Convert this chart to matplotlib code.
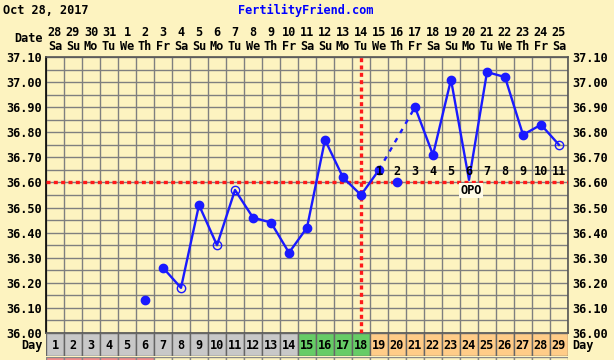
import numpy as np
import matplotlib
matplotlib.use('Agg')
import matplotlib.pyplot as plt
import matplotlib.transforms as mtransforms

# Chart data
cycle_days = list(range(1, 30))
date_nums = ['28', '29', '30', '31'] + [str(d) for d in range(1, 26)]
weekdays = (['Sa', 'Su', 'Mo', 'Tu', 'We', 'Th', 'Fr'] * 5)[:29]
temps = [None, None, None, None, None, 36.13, 36.26, 36.18, 36.51, 36.35,
         36.57, 36.46, 36.44, 36.32, 36.42, 36.77, 36.62, 36.55, 36.65, 36.60,
         36.90, 36.71, 37.01, 36.61, 37.04, 37.02, 36.79, 36.83, 36.75]
open_days = [8, 10, 11, 29]      # hollow markers
no_marker_days = [24]
isolated_days = [6, 20]           # not joined by solid line
dashed_pair = [19, 21]
coverline = 36.60
ovulation_day = 18
dpo_days = list(range(19, 30))
dpo_labels = [str(i) for i in range(1, 12)]
opo_day = 24
phase_colors = ['#c8c8c8'] * 14 + ['#66cc66'] * 4 + ['#ffcc88'] * 11
period_days = [1, 2, 3, 4, 5, 6]

BG = '#fdf3c0'
BLUE = '#1a1aff'
FONT = 'DejaVu Sans Mono'
fs = 8.6

fig = plt.figure(figsize=(6.14, 3.60), dpi=100, facecolor=BG)

W, H = 614, 360
def fx(px):
    return px / W
def fy(py):
    return 1 - py / H

ax = fig.add_axes([fx(46), fy(333), fx(522), 276 / H])
ax.set_facecolor(BG)
ax.set_xlim(0.5, 29.5)
ax.set_ylim(36.0, 37.1)

# grid
ax.set_xticks(np.arange(0.5, 30, 1))
ax.set_xticklabels([])
yt = np.round(np.arange(36.0, 37.11, 0.1), 2)
ax.set_yticks(yt)
ax.set_yticklabels(['%.2f' % v for v in yt], fontfamily=FONT, fontweight='bold', fontsize=fs)
ax.set_yticks(np.arange(36.05, 37.1, 0.1), minor=True)
ax.tick_params(axis='both', which='both', length=0)
ax.tick_params(axis='y', labelright=True, pad=3)
ax.grid(True, which='both', color='#7f7f7f', linewidth=1.0)
ax.set_axisbelow(True)
for s in ax.spines.values():
    s.set_color('#555555')
    s.set_linewidth(1.2)
ax.spines['left'].set_color('#000000')

# coverline and ovulation line
ax.axhline(coverline, color='#ff1a1a', linewidth=2.4, linestyle=(0, (1.2, 1.0)), zorder=3)
ax.axvline(ovulation_day, color='#ff1a1a', linewidth=2.4, linestyle=(0, (1.2, 1.0)), zorder=3, clip_on=False)

# temperature line
t = np.array([np.nan if v is None else v for v in temps])
d = np.array(cycle_days)
solid = t.copy()
for iso in isolated_days:
    solid[iso - 1] = np.nan
ax.plot(d, solid, color=BLUE, linewidth=1.7, zorder=4)
ax.plot(dashed_pair, [t[dashed_pair[0] - 1], t[dashed_pair[1] - 1]], color=BLUE,
        linewidth=1.7, linestyle=(0, (2, 2.5)), zorder=4)

filled = [day for day in cycle_days
          if temps[day - 1] is not None and day not in open_days and day not in no_marker_days]
ax.plot(filled, [temps[day - 1] for day in filled], 'o', color=BLUE, markersize=6.0, zorder=5)
ax.plot(open_days, [temps[day - 1] for day in open_days], 'o', markerfacecolor='none',
        markeredgecolor=BLUE, markeredgewidth=1.0, markersize=6.0, zorder=5)

# DPO labels
for day, lab in zip(dpo_days, dpo_labels):
    ax.text(day, 36.642, lab, ha='center', va='center', fontfamily=FONT,
            fontweight='bold', fontsize=fs, zorder=6)
ax.text(opo_day + 0.1, 36.568, 'OPO', ha='center', va='center', fontfamily=FONT,
        fontweight='bold', fontsize=fs, zorder=6,
        bbox=dict(boxstyle='square,pad=0.1', facecolor='#fffbe8', edgecolor='none'))

# header
fig.text(fx(3), fy(10), 'Oct 28, 2017', ha='left', va='center', fontfamily=FONT,
         fontweight='bold', fontsize=fs)
fig.text(fx(306), fy(10), 'FertilityFriend.com', ha='center', va='center', fontfamily=FONT,
         fontweight='bold', fontsize=fs, color='#0000ff')
tr = mtransforms.blended_transform_factory(ax.transData, fig.transFigure)
for day, num, wd in zip(cycle_days, date_nums, weekdays):
    ax.text(day, fy(33), num, transform=tr, ha='center', va='center', fontfamily=FONT,
            fontweight='bold', fontsize=fs)
    ax.text(day, fy(46.5), wd, transform=tr, ha='center', va='center', fontfamily=FONT,
            fontweight='bold', fontsize=fs)
fig.text(fx(43), fy(39), 'Date', ha='right', va='center', fontfamily=FONT,
         fontweight='bold', fontsize=fs)

# day row
axd = fig.add_axes([fx(46), fy(356), fx(522), 23 / H])
axd.set_xlim(0.5, 29.5)
axd.set_ylim(0, 1)
axd.bar(cycle_days, 1, width=1, bottom=0, color=phase_colors, edgecolor='#666666', linewidth=1.0)
for day in cycle_days:
    axd.text(day, 0.45, str(day), ha='center', va='center', fontfamily=FONT,
             fontweight='bold', fontsize=fs)
axd.axis('off')
fig.text(fx(43), fy(346), 'Day', ha='right', va='center', fontfamily=FONT,
         fontweight='bold', fontsize=fs)
fig.text(fx(572), fy(346), 'Day', ha='left', va='center', fontfamily=FONT,
         fontweight='bold', fontsize=fs)

# partial row below (cut off by image edge)
axp = fig.add_axes([fx(46), fy(380), fx(522), 23 / H])
axp.set_xlim(0.5, 29.5)
axp.set_ylim(0, 1)
row_colors = ['#f28a8a' if day in period_days else BG for day in cycle_days]
axp.bar(cycle_days, 1, width=1, bottom=0, color=row_colors, edgecolor='#888888', linewidth=1.0)
axp.axis('off')

fig.savefig('out.png', dpi=100, facecolor=BG)
